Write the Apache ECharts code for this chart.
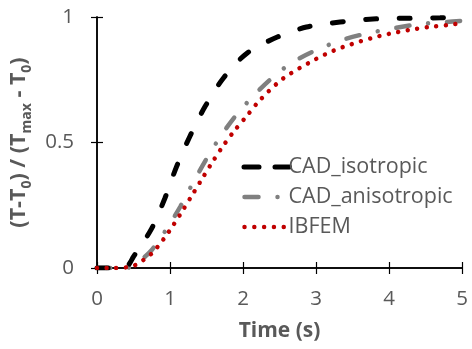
<!DOCTYPE html>
<html>
<head>
<meta charset="utf-8">
<script src="https://cdn.jsdelivr.net/npm/echarts@6/dist/echarts.min.js"></script>
<style>
  html, body { margin: 0; padding: 0; background: #fff; }
  #chart { width: 472px; height: 349px; }
</style>
</head>
<body>
<div id="chart"></div>
<script>
// values
const isoTime = [0, 0.2, 0.4, 0.5, 0.75, 0.93, 1.09, 1.27, 1.48, 1.73, 2.05, 2.47, 2.87, 3.33, 3.78, 4.24, 4.7, 5];
const isoValue = [0, 0, 0.005, 0.045, 0.158, 0.278, 0.404, 0.523, 0.643, 0.756, 0.855, 0.92, 0.96, 0.98, 0.992, 0.995, 0.997, 1.0];

const anisoTime = [0, 0.2, 0.4, 0.55, 0.75, 0.95, 1.14, 1.31, 1.49, 1.68, 1.89, 2.14, 2.41, 2.68, 3.01, 3.35, 3.69, 4.06, 4.4, 4.77, 5];
const anisoValue = [0, 0, 0, 0.02, 0.072, 0.154, 0.244, 0.337, 0.43, 0.519, 0.603, 0.685, 0.76, 0.82, 0.869, 0.908, 0.934, 0.955, 0.971, 0.98, 0.985];

const ibfemTime = [0, 0.2, 0.41, 0.53, 0.65, 0.75, 0.84, 0.92, 1.0, 1.15, 1.29, 1.43, 1.57, 1.72, 1.88, 2.05, 2.22, 2.55, 2.99, 3.24, 3.49, 3.75, 4.0, 4.27, 4.54, 4.8, 5];
const ibfemValue = [0, 0, 0.003, 0.012, 0.035, 0.058, 0.088, 0.118, 0.151, 0.218, 0.284, 0.351, 0.417, 0.483, 0.546, 0.605, 0.665, 0.755, 0.831, 0.866, 0.892, 0.915, 0.933, 0.948, 0.96, 0.968, 0.975];

const seriesNames = ['CAD_isotropic', 'CAD_anisotropic', 'IBFEM'];

const pairs = (xs, ys) => xs.map((x, i) => [x, ys[i]]);

const textColor = '#595959';
const fontFamily = 'Open Sans, Liberation Sans, sans-serif';

const chart = echarts.init(document.getElementById('chart'), null, { renderer: 'canvas' });

const mirrorAxis = {
  min: 0,
  axisLine: { show: true, lineStyle: { color: '#000', width: 1.5 } },
  axisTick: { show: true, inside: true, length: 6, lineStyle: { color: '#000', width: 1.2 } },
  axisLabel: { show: false },
  splitLine: { show: false }
};

// legend samples: no marker, only the line
const noMarker = { color: 'rgba(0,0,0,0)', borderWidth: 0 };

chart.setOption({
  animation: false,
  backgroundColor: '#fff',
  grid: { left: 97, right: 10, top: 17, bottom: 81 },
  legend: {
    left: 234,
    top: 151,
    orient: 'vertical',
    itemWidth: 48,
    itemHeight: 14,
    itemGap: 8,
    itemStyle: noMarker,
    lineStyle: { width: 'inherit' },
    data: [
      { name: seriesNames[0], lineStyle: { type: [15, 16], cap: 'round', width: 5, dashOffset: -2.5 } },
      { name: seriesNames[1], lineStyle: { type: [14, 19, 0.01, 30], cap: 'round', width: 4.5, dashOffset: -3 } },
      { name: seriesNames[2], lineStyle: { type: [0.01, 9.8], cap: 'round', width: 4.5, dashOffset: -3 } }
    ],
    textStyle: { color: textColor, fontSize: 21.5, fontFamily, padding: [0, 0, 0, -6] }
  },
  xAxis: [
    {
      type: 'value',
      min: 0,
      max: 5,
      interval: 1,
      name: 'Time (s)',
      nameLocation: 'middle',
      nameGap: 53,
      nameTextStyle: { color: textColor, fontSize: 21, fontWeight: 'bold', fontFamily },
      axisLine: { show: true, onZero: false, lineStyle: { color: '#000', width: 1.5 } },
      axisTick: { show: true, inside: true, length: 6, lineStyle: { color: '#000', width: 1.2 } },
      axisLabel: { color: textColor, fontSize: 20.5, fontFamily, margin: 21 },
      splitLine: { show: false }
    },
    Object.assign({}, mirrorAxis, { type: 'value', position: 'top', max: 5, interval: 1 })
  ],
  yAxis: [
    {
      type: 'value',
      min: 0,
      max: 1,
      interval: 0.5,
      name: '{b|(T-T}{s|0}{b|) / (T}{s|max}{b| - T}{s|0}{b|)}',
      nameLocation: 'middle',
      nameGap: 57,
      nameTextStyle: {
        color: textColor,
        rich: {
          b: { fontSize: 21.5, fontWeight: 'bold', fontFamily, color: textColor, lineHeight: 30, verticalAlign: 'middle' },
          s: { fontSize: 14, fontWeight: 'bold', fontFamily, color: textColor, verticalAlign: 'bottom', lineHeight: 30 }
        }
      },
      axisLine: { show: true, onZero: false, lineStyle: { color: '#000', width: 1.5 } },
      axisTick: { show: true, inside: true, length: 6, lineStyle: { color: '#000', width: 1.2 } },
      axisLabel: { color: textColor, fontSize: 20.5, fontFamily, margin: 23 },
      splitLine: { show: false }
    },
    Object.assign({}, mirrorAxis, { type: 'value', position: 'right', max: 1, interval: 0.5 })
  ],
  series: [
    {
      name: seriesNames[0],
      type: 'line',
      data: pairs(isoTime, isoValue),
      smooth: 0.3,
      symbol: 'none',
      z: 3,
      itemStyle: { color: '#000' },
      lineStyle: { color: '#000', width: 5, type: [11, 22.5], cap: 'round' }
    },
    {
      name: seriesNames[1],
      type: 'line',
      data: pairs(anisoTime, anisoValue),
      smooth: 0.3,
      symbol: 'none',
      z: 2,
      itemStyle: { color: '#808080' },
      lineStyle: { color: '#808080', width: 4.5, type: [13, 19, 0.01, 19], cap: 'round' }
    },
    {
      name: seriesNames[2],
      type: 'line',
      data: pairs(ibfemTime, ibfemValue),
      smooth: 0.3,
      symbol: 'none',
      z: 4,
      itemStyle: { color: '#c00000' },
      lineStyle: { color: '#c00000', width: 4.5, type: [0.01, 9.6], cap: 'round' }
    }
  ]
});
</script>
</body>
</html>
